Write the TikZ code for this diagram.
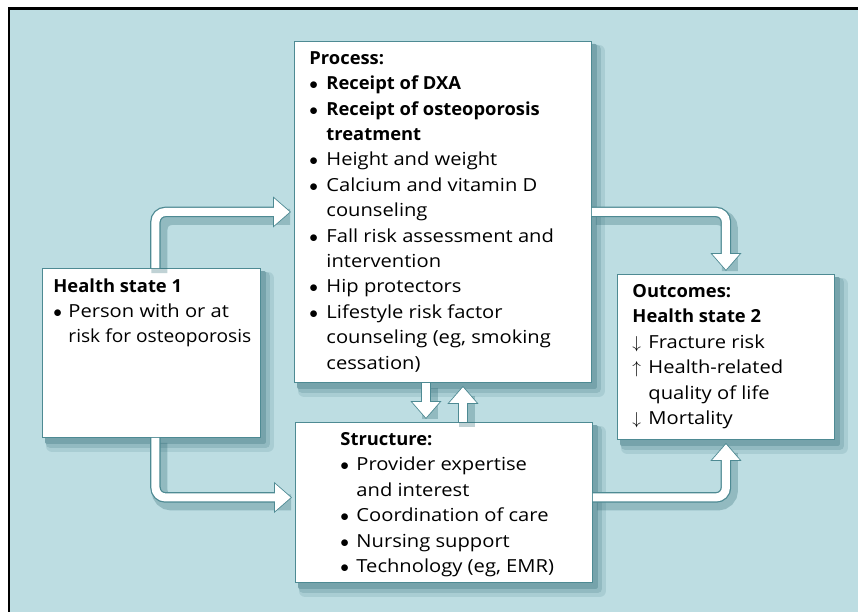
\documentclass[tikz,border=0pt]{standalone}
\usepackage{fontspec}
\setmainfont{Open Sans}[UprightFeatures={FakeStretch=1.12}, BoldFeatures={FakeStretch=1.02}]
\usetikzlibrary{arrows.meta,backgrounds}
\definecolor{bgteal}{HTML}{BDDDE2}
\definecolor{edgeteal}{HTML}{4E8A93}
\definecolor{shadowteal}{HTML}{2F6A74}
\tikzset{
  panel/.style={draw=edgeteal, fill=white, line width=0.9pt, anchor=north west,
    inner ysep=10pt, inner xsep=0pt},
  arrowout/.style={draw=edgeteal, line width=10.5pt, rounded corners=10pt,
    -{Triangle[length=18pt,width=30pt]}, shorten >=3pt},
  arrowin/.style={draw=white, line width=8pt, rounded corners=10pt,
    -{Triangle[length=15.7pt,width=26.2pt]}, shorten >=4.3pt},
  arrowshade/.style={draw=shadowteal, opacity=0.3, line width=16pt,
    rounded corners=12pt, shorten >=8pt, transform canvas={shift={(4pt,-5pt)}}}
}
\newcommand{\flowarrow}[1]{\draw[arrowshade] #1; \draw[arrowout] #1; \draw[arrowin] #1;}
% bullet and arrow lines with hanging indent
\newcommand{\bitem}[1][17pt]{\par\hangindent=#1\hangafter=1\noindent\makebox[#1][l]{$\bullet$}\ignorespaces}
\newcommand{\aitem}[1]{\par\hangindent=16pt\hangafter=1\noindent\makebox[16pt][l]{$#1$}\ignorespaces}
% left pad, text width, right pad, height, text
\newcommand{\paneltext}[5]{\hspace*{#1}\parbox[c][#4][t]{#2}{\raggedright\fontsize{18}{25.4}\selectfont #5}\hspace*{#3}}
\begin{document}
\begin{tikzpicture}[x=1pt,y=-1pt]
  \useasboundingbox (0,0) rectangle (858,612);

  \node[panel] (hs1) at (42,268)
    {\paneltext{11pt}{203pt}{4pt}{149pt}{\textbf{Health state 1}
      \bitem[15pt] Person with or at\newline \scalebox{0.95}[1]{risk for osteoporosis}}};
  \node[panel] (proc) at (294,41)
    {\paneltext{15pt}{267pt}{15pt}{321pt}{\textbf{Process:}
      \bitem\textbf{Receipt of DXA}
      \bitem\textbf{Receipt of osteoporosis\newline treatment}
      \bitem Height and weight
      \bitem Calcium and vitamin D\newline counseling
      \bitem Fall risk assessment and\newline intervention
      \bitem Hip protectors
      \bitem Lifestyle risk factor\newline counseling (eg, smoking\newline cessation)}};
  \node[panel] (outc) at (617,274)
    {\paneltext{15pt}{192pt}{10pt}{145pt}{\textbf{Outcomes:}\par\textbf{Health state 2}
      \aitem{\downarrow}Fracture risk
      \aitem{\uparrow}Health-related\newline quality of life
      \aitem{\downarrow}Mortality}};
  \node[panel] (struc) at (295,422)
    {\paneltext{45pt}{237pt}{15pt}{140pt}{\textbf{Structure:}
      \bitem[16pt] Provider expertise\newline and interest
      \bitem[16pt] Coordination of care
      \bitem[16pt] Nursing support
      \bitem[16pt] Technology (eg, EMR)}};

  % frame and panel shadows
  \begin{scope}[on background layer]
    \fill[white] (0,0) rectangle (858,612);
    \fill[bgteal] (9,8.5) rectangle (858,612);
    \draw[line width=2.6pt] (9,612) -- (9,8.5) -- (858,8.5);
    \foreach \p in {hs1,proc,outc,struc}{
      \fill[shadowteal!14!bgteal, rounded corners=6pt] ([xshift=4pt,yshift=-4pt]\p.north west) rectangle ([xshift=13pt,yshift=-14pt]\p.south east);
      \fill[shadowteal!30!bgteal, rounded corners=4pt] ([xshift=4pt,yshift=-4pt]\p.north west) rectangle ([xshift=9pt,yshift=-10pt]\p.south east);
      \fill[shadowteal!50!bgteal, rounded corners=2pt] ([xshift=3pt,yshift=-3pt]\p.north west) rectangle ([xshift=5pt,yshift=-6pt]\p.south east);
    }
  \end{scope}

  \flowarrow{([xshift=4pt]hs1.north) |- (proc.west)}
  \flowarrow{([xshift=4pt]hs1.south) |- ([yshift=5pt]struc.west)}
  \flowarrow{(proc.east) -| (outc.north)}
  \flowarrow{([yshift=5pt]struc.east) -| (outc.south)}
  \flowarrow{([xshift=-17pt]proc.south) -- ([xshift=-17pt]proc.south |- struc.north)}
  \flowarrow{([xshift=19pt]struc.north) -- ([xshift=19pt]struc.north |- proc.south)}
\end{tikzpicture}
\end{document}
